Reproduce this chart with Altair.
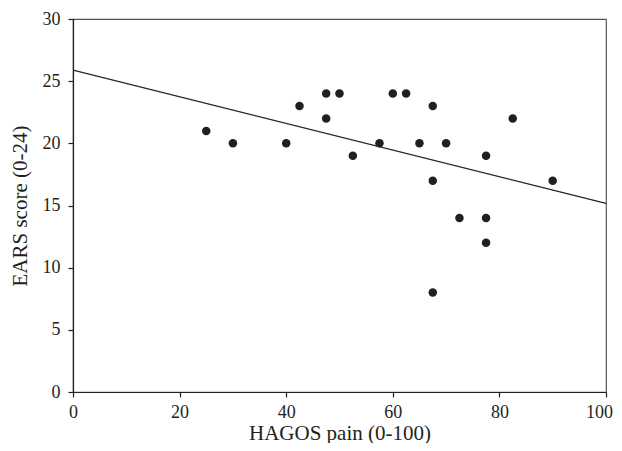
import altair as alt
import pandas as pd

# HAGOS pain (0-100) values
hagos_pain = [25, 30, 40, 42.5, 47.5, 47.5, 50, 52.5, 57.5, 60, 62.5, 65,
              67.5, 67.5, 67.5, 70, 72.5, 77.5, 77.5, 77.5, 82.5, 90]
# EARS score (0-24) values
ears_score = [21, 20, 20, 23, 24, 22, 24, 19, 20, 24, 24, 20,
              23, 17, 8, 20, 14, 19, 14, 12, 22, 17]

x_ticks = [0, 20, 40, 60, 80, 100]
y_ticks = [0, 5, 10, 15, 20, 25, 30]

df = pd.DataFrame({"pain": hagos_pain, "ears": ears_score})

FONT = "Liberation Serif"

x_enc = alt.X("pain:Q", title="HAGOS pain (0-100)",
              scale=alt.Scale(domain=[0, 100], nice=False, zero=False),
              axis=alt.Axis(values=x_ticks, format="d",
                            labelOffset={"condition": {"test": "datum.value === 100", "value": -7},
                                         "value": 0}))
y_enc = alt.Y("ears:Q", title="EARS score (0-24)",
              scale=alt.Scale(domain=[0, 30], nice=False, zero=False),
              axis=alt.Axis(values=y_ticks, format="d"))

points = alt.Chart(df).mark_circle(size=72, color="#231f20", opacity=1).encode(
    x=x_enc, y=y_enc
)

line = alt.Chart(df).transform_regression(
    "pain", "ears", extent=[0, 100]
).mark_line(color="#231f20", strokeWidth=1.3, clip=True).encode(
    x=x_enc, y=y_enc
)

chart = (line + points).properties(
    width=533, height=373,
    autosize=alt.AutoSizeParams(type="none"),
    padding={"left": 65, "top": 11, "right": 8, "bottom": 51},
).configure_view(
    stroke="#555555", strokeWidth=1.2
).configure_axis(
    grid=False,
    domainColor="#231f20", domainWidth=1.2,
    tickColor="#231f20", tickSize=5, tickWidth=1.2,
    labelFont=FONT, labelFontSize=18, labelColor="#231f20",
    titleFont=FONT, titleFontSize=21, titleFontWeight="normal", titleColor="#231f20",
).configure_axisX(
    labelPadding=6, titlePadding=1, labelFlush=False
).configure_axisY(
    labelPadding=8, titlePadding=12, labelFlush=False
)

chart.save("out.html", embed_options={"renderer": "svg", "actions": False})
